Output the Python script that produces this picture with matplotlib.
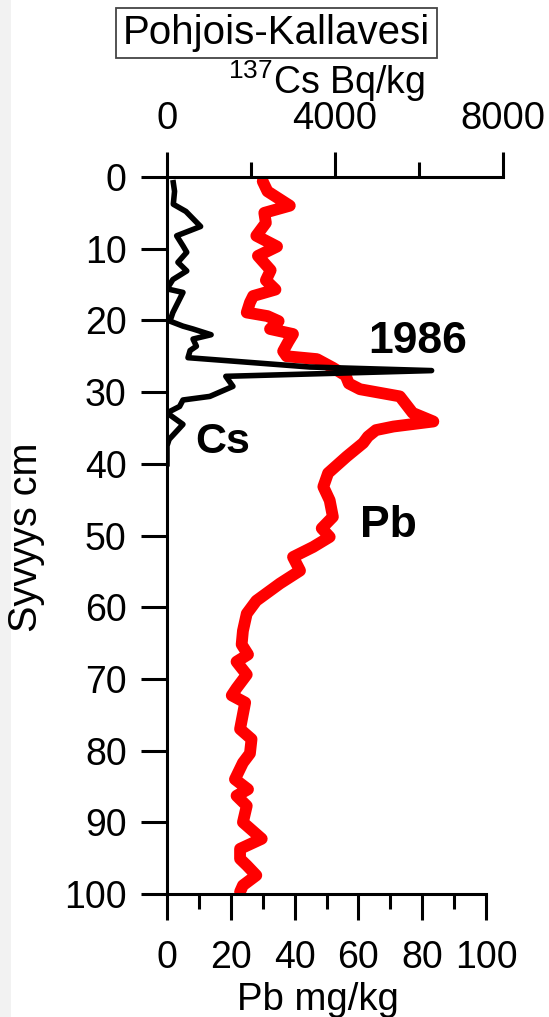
import matplotlib
matplotlib.use("Agg")
import matplotlib.pyplot as plt
from matplotlib.patches import Rectangle

plt.rcParams["font.family"] = ["Liberation Sans", "DejaVu Sans"]
plt.rcParams["mathtext.fontset"] = "custom"
plt.rcParams["mathtext.rm"] = "Liberation Sans"

# Pb profile (mg/kg) vs depth (cm)
pb_depth = [0.6, 2.0, 4.0, 5.0, 6.4, 8.2, 9.7, 11.0, 13.0, 14.4, 15.7, 16.6, 17.5,
            18.9, 19.4, 20.1, 21.2, 21.9, 23.0, 24.3, 25.0, 25.4, 26.6, 27.7, 28.8,
            29.6, 30.6, 32.9, 34.1, 34.8, 35.3, 36.2, 37.1, 39.0, 41.3, 43.2, 45.1,
            47.4, 49.0, 50.2, 51.6, 53.0, 54.9, 56.7, 59.1, 60.9, 63.3, 65.2, 66.6,
            67.6, 69.4, 71.3, 72.3, 73.3, 77.0, 78.4, 80.4, 81.7, 84.0, 85.4, 86.3,
            87.7, 90.0, 92.3, 93.7, 95.1, 96.0, 97.4, 98.8, 99.7]
pb_vals = [30, 31.5, 38.5, 30.5, 31, 28, 34.5, 28.5, 32.5, 31, 34, 27, 26,
           25, 31.5, 35, 32.3, 39.5, 38, 36.4, 37.5, 47, 52, 56, 57,
           60.5, 73, 77, 83.5, 71, 65.5, 63, 61.5, 56.3, 50.5, 49, 51,
           52, 48.5, 51, 45.8, 39.5, 41.7, 35.4, 28, 25, 23.8, 23.4, 25.4,
           21.8, 25, 21.8, 20.3, 24.5, 22.9, 26.5, 26, 23.8, 21.3, 25.4, 21.8,
           25, 23.8, 29.7, 22.9, 22.9, 25, 28, 23.8, 22.9]

# 137Cs profile (Bq/kg) vs depth (cm)
cs_depth = [0.8, 2.0, 3.8, 4.8, 6.9, 8.2, 9.6, 10.5, 11.9, 13.1, 14.3, 15.6, 16.1,
            17.5, 18.9, 20.1, 20.8, 21.2, 22.0, 22.6, 23.6, 24.2, 25.2, 26.5, 27.0,
            27.8, 29.2, 30.6, 31.1, 32.0, 32.9, 34.5, 36.6, 37.5, 40.0]
cs_vals = [150, 180, 150, 450, 800, 230, 380, 470, 260, 470, 140, 0, 380,
           260, 140, 70, 380, 620, 1050, 620, 700, 550, 500, 3400, 6300,
           1400, 1570, 1020, 380, 300, 0, 380, 50, 0, 0]

depth_ticks = list(range(0, 101, 10))
pb_ticks = [0, 20, 40, 60, 80, 100]
pb_minor = [10, 30, 50, 70, 90]
cs_ticks = [0, 4000, 8000]
cs_minor = [2000, 6000]

W, H = 549, 1017
fig = plt.figure(figsize=(W / 100, H / 100), dpi=100)
fig.patch.set_facecolor("white")
fig.add_artist(Rectangle((0, 0), 11 / W, 1, transform=fig.transFigure,
                         facecolor="#f2f2f2", edgecolor="none", zorder=-10))

left, bottom, height = 167 / W, 123 / H, 717 / H
ax = fig.add_axes([left, bottom, 319 / W, height])
ax2 = fig.add_axes([left, bottom, 336 / W, height])

ax.plot(pb_vals, pb_depth, color="red", lw=8.5, solid_joinstyle="round",
        solid_capstyle="round")
ax.set_xlim(0, 100)
ax.set_ylim(100, 0)
ax.set_xticks(pb_ticks)
ax.set_xticks(pb_minor, minor=True)
ax.set_yticks(depth_ticks)
for s in ["top", "right"]:
    ax.spines[s].set_visible(False)
for s in ["left", "bottom"]:
    ax.spines[s].set_linewidth(2.2)
ax.tick_params(axis="both", which="major", direction="out", length=19, width=2.2,
               labelsize=27, pad=10)
ax.tick_params(axis="x", which="minor", direction="out", length=11, width=2.2)
ax.tick_params(axis="x", which="major", pad=14)

ax2.plot(cs_vals, cs_depth, color="black", lw=4, solid_joinstyle="round")
ax2.set_xlim(0, 8000)
ax2.set_ylim(100, 0)
ax2.patch.set_visible(False)
for s in ["bottom", "left", "right"]:
    ax2.spines[s].set_visible(False)
ax2.spines["top"].set_linewidth(2.2)
ax2.xaxis.tick_top()
ax2.set_xticks(cs_ticks)
ax2.set_xticks(cs_minor, minor=True)
ax2.set_yticks([])
ax2.tick_params(axis="x", which="major", direction="out", length=18, width=2.2,
                labelsize=27.5, pad=11)
ax2.tick_params(axis="x", which="minor", direction="out", length=11, width=2.2)

ax.text(63, 24.5, "1986", fontsize=32, fontweight="bold", ha="left", va="baseline")
ax.text(8.8, 38.5, "Cs", fontsize=31, fontweight="bold", ha="left", va="baseline")
ax.text(60.5, 50.2, "Pb", fontsize=32, fontweight="bold", ha="left", va="baseline")

fig.text(318 / W, 1 - 1000 / H, "Pb mg/kg", fontsize=27.5, ha="center", va="center")
fig.text(26 / W, 1 - 537 / H, "Syvyys cm", fontsize=28.5, rotation=90,
         ha="center", va="center")
fig.text(326 / W, 1 - 81 / H, r"$^{\mathregular{137}}$Cs Bq/kg", fontsize=27,
         ha="center", va="center")
fig.text(276.5 / W, 1 - 33 / H, "Pohjois-Kallavesi", fontsize=29, ha="center",
         va="center", bbox=dict(boxstyle="square,pad=0.16", facecolor="white",
                                edgecolor="#444444", linewidth=1.3))

fig.savefig("out.png", dpi=100)
